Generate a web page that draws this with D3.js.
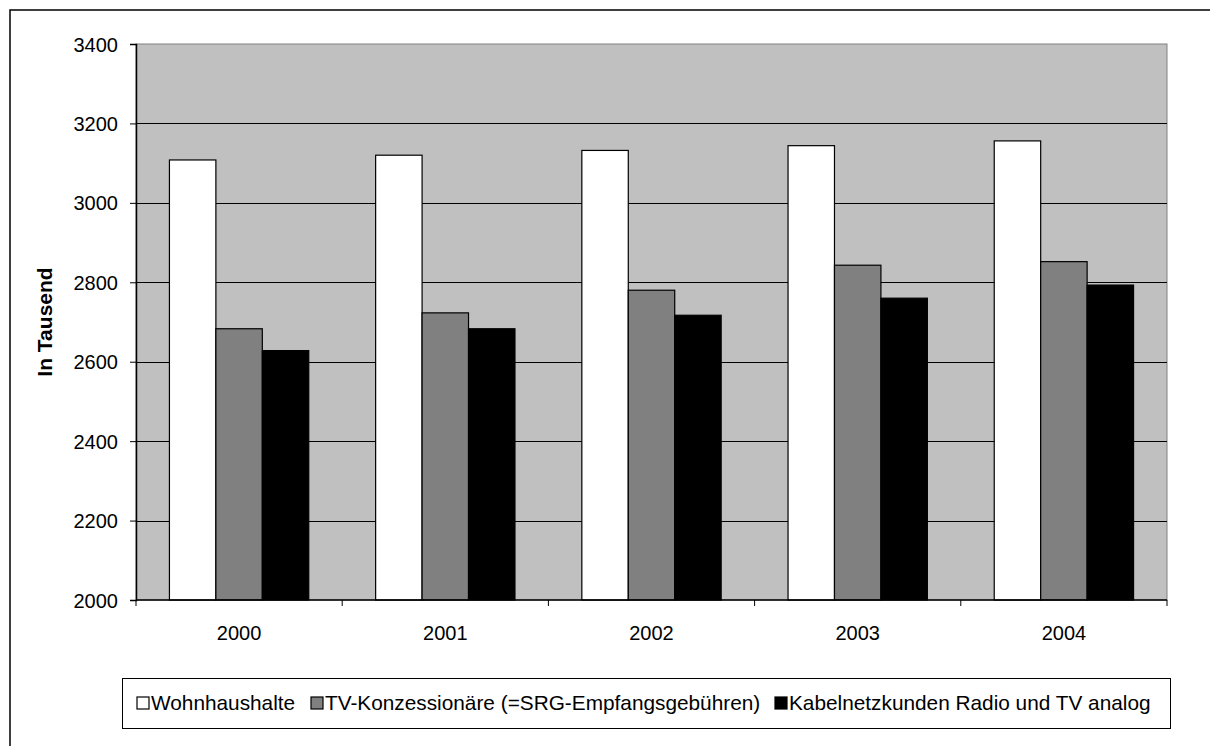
<!DOCTYPE html>
<html>
<head>
<meta charset="utf-8">
<script src="https://cdn.jsdelivr.net/npm/d3@7"></script>
<style>
  body { margin: 0; background: #fff; }
  svg text { font-family: Arial, "Liberation Sans", sans-serif; fill: #000; }
</style>
</head>
<body>
<div id="chart"></div>
<script>
const years = ["2000", "2001", "2002", "2003", "2004"];
const seriesNames = ["Wohnhaushalte", "TV-Konzessionäre (=SRG-Empfangsgebühren)", "Kabelnetzkunden Radio und TV analog"];
const wohnhaushalte = [3108, 3120, 3132, 3144, 3156];
const tvKonz = [2683, 2723, 2780, 2843, 2852];
const kabel = [2628, 2683, 2717, 2760, 2793];
const yTicks = [2000, 2200, 2400, 2600, 2800, 3000, 3200, 3400];
const colors = ["#ffffff", "#808080", "#000000"];

const W = 1210, H = 746;
const plot = {left: 136, top: 44, right: 1167, bottom: 600};
const font = 'Arial, "Liberation Sans", sans-serif';

const svg = d3.select('#chart').append('svg')
    .attr('width', W)
    .attr('height', H);

// outer chart frame (runs off the right/bottom edge)
svg.append('rect')
    .attr('x', 10).attr('y', 10)
    .attr('width', W + 20).attr('height', H + 20)
    .attr('fill', '#fff')
    .attr('stroke', '#000')
    .attr('stroke-width', 1.5);

let x0 = d3.scaleBand()
        .domain(years)
        .range([plot.left, plot.right])
        .paddingInner(0)
        .paddingOuter(0),
    x1 = d3.scaleBand()
        .domain(d3.range(3))
        .range([0, x0.bandwidth()])
        .paddingOuter(0.72)
        .paddingInner(0),
    y = d3.scaleLinear()
        .domain([2000, 3400])
        .range([plot.bottom, plot.top]);

// plot background
svg.append('rect')
    .attr('x', plot.left).attr('y', plot.top)
    .attr('width', plot.right - plot.left)
    .attr('height', plot.bottom - plot.top)
    .attr('fill', '#c0c0c0')
    .attr('stroke', '#808080')
    .attr('stroke-width', 1);

// gridlines
svg.append('g')
    .selectAll('line')
    .data(yTicks.filter(d => d > 2000 && d < 3400))
    .enter()
    .append('line')
    .attr('x1', plot.left).attr('x2', plot.right)
    .attr('y1', d => Math.round(y(d)) + 0.5)
    .attr('y2', d => Math.round(y(d)) + 0.5)
    .attr('stroke', '#000')
    .attr('stroke-width', 1);

// bars
const series = [wohnhaushalte, tvKonz, kabel];
const rows = [];
years.forEach((yr, i) => {
    series.forEach((s, k) => rows.push({year: yr, k: k, value: s[i]}));
});

svg.append('g')
    .selectAll('rect')
    .data(rows)
    .enter()
    .append('rect')
    .attr('x', d => x0(d.year) + x1(d.k))
    .attr('y', d => y(d.value))
    .attr('width', x1.bandwidth())
    .attr('height', d => y(2000) - y(d.value))
    .attr('fill', d => colors[d.k])
    .attr('stroke', '#000')
    .attr('stroke-width', 1.2);

// y axis
const yAxis = svg.append('g')
    .attr('transform', 'translate(' + plot.left + ',0)')
    .call(d3.axisLeft(y).tickValues(yTicks).tickSize(6).tickPadding(12).tickFormat(d3.format('d')));
yAxis.attr('font-size', null).attr('font-family', null);
yAxis.select('.domain').attr('stroke', '#000').attr('stroke-width', 1.5);
yAxis.selectAll('line').attr('stroke', '#000');
yAxis.selectAll('text')
    .attr('font-size', '20px')
    .attr('font-family', font)
    .attr('dy', '0.35em');

// x axis, ticks between categories
const xAxis = svg.append('g')
    .attr('transform', 'translate(0,' + plot.bottom + ')');
xAxis.append('line')
    .attr('x1', plot.left).attr('x2', plot.right)
    .attr('y1', 0).attr('y2', 0)
    .attr('stroke', '#000').attr('stroke-width', 1.5);
xAxis.selectAll('.xtick')
    .data(years.map(d => x0(d)).concat([plot.right]))
    .enter()
    .append('line')
    .attr('class', 'xtick')
    .attr('x1', d => d).attr('x2', d => d)
    .attr('y1', 0).attr('y2', 6)
    .attr('stroke', '#000');
xAxis.selectAll('text')
    .data(years)
    .enter()
    .append('text')
    .attr('x', d => x0(d) + x0.bandwidth() / 2)
    .attr('y', 40)
    .attr('text-anchor', 'middle')
    .attr('font-size', '20px')
    .text(d => d);

// y axis title
svg.append('text')
    .attr('transform', 'translate(52,' + ((plot.top + plot.bottom) / 2) + ') rotate(-90)')
    .attr('text-anchor', 'middle')
    .attr('font-size', '21px')
    .attr('font-weight', 'bold')
    .text('In Tausend');

// legend
const legend = svg.append('g');
legend.append('rect')
    .attr('x', 122.5).attr('y', 678.5)
    .attr('width', 1048).attr('height', 50)
    .attr('fill', '#fff')
    .attr('stroke', '#000')
    .attr('stroke-width', 1);

const legendX = [137, 311, 775];
const items = legend.selectAll('.item')
    .data(seriesNames)
    .enter()
    .append('g')
    .attr('class', 'item')
    .attr('transform', (d, i) => 'translate(' + legendX[i] + ',703)');
items.append('rect')
    .attr('x', 0).attr('y', -6)
    .attr('width', 12).attr('height', 12)
    .attr('fill', (d, i) => colors[i])
    .attr('stroke', '#000')
    .attr('stroke-width', 1.2);
items.append('text')
    .attr('x', 14)
    .attr('y', 7)
    .attr('font-size', '20.8px')
    .text(d => d);
</script>
</body>
</html>
